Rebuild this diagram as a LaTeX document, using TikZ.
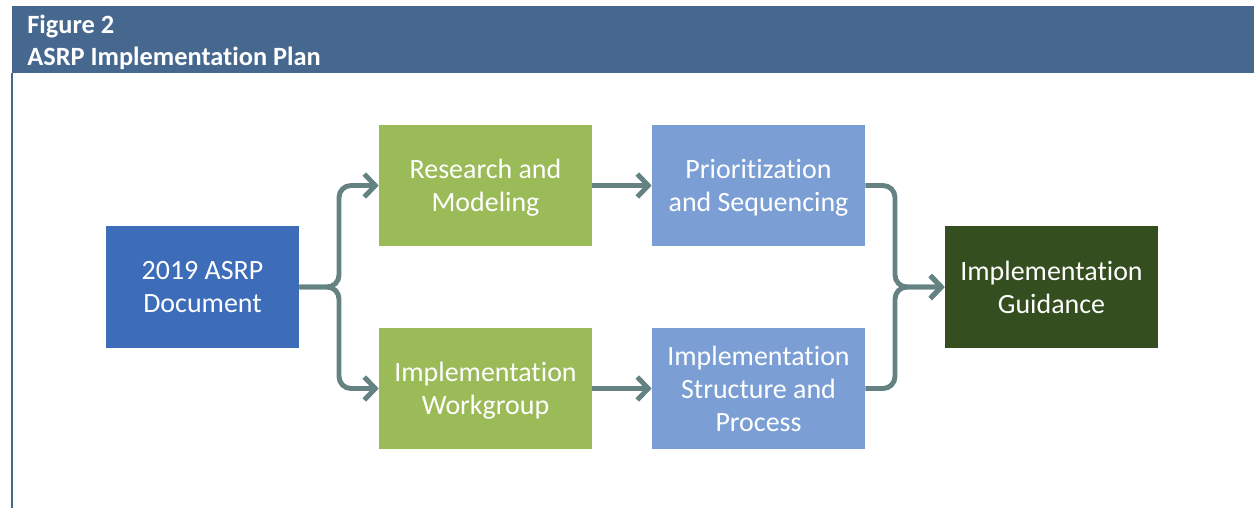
\documentclass[tikz,border=0pt]{standalone}
\usepackage{fontspec}
\setmainfont{Carlito}[Ligatures={NoCommon}]
\usetikzlibrary{arrows.meta}

\definecolor{headblue}{HTML}{46688F}
\definecolor{docblue}{HTML}{3D6DB9}
\definecolor{stepgreen}{HTML}{9BBB59}
\definecolor{stepblue}{HTML}{7B9FD5}
\definecolor{guidegreen}{HTML}{344E1F}
\definecolor{flowgray}{HTML}{648282}

\tikzset{
  box/.style={fill=#1, text=white, align=center, inner sep=0pt,
    minimum width=4.26cm, minimum height=2.42cm, text depth=0pt,
    font=\fontsize{15.9}{18.7}\selectfont},
  flow/.style={draw=flowgray, line width=2.8pt, rounded corners=0.24cm,
    -{Straight Barb[length=0.22cm, width=0.46cm]}},
  headtext/.style={anchor=west, text=white, inner sep=0pt,
    font=\fontsize{15}{18}\selectfont\bfseries}
}

\begin{document}
\begin{tikzpicture}[x=0.02cm, y=-0.02cm]
    \useasboundingbox (0, 0) rectangle (1254, 508);
    % header bar and frame
    \fill [headblue] (12, 6) rectangle (1254, 73);
    \draw [headblue, line width=0.04cm] (12, 73) -- (12, 508);
    \node [headtext] (figno) at (27, 26) {Figure 2};
    \node [headtext] (figtitle) at (27, 58) {ASRP Implementation Plan};
    % boxes
    \node [box=docblue, minimum width=3.86cm, minimum height=2.44cm] (doc) at (202.5, 287) {2019 ASRP\\Document};
    \node [box=stepgreen] (research) at (485.5, 185.5) {Research and\\Modeling};
    \node [box=stepgreen] (workgroup) at (485.5, 388.5) {Implementation\\Workgroup};
    \node [box=stepblue] (prio) at (758.5, 185.5) {Prioritization\\and Sequencing};
    \node [box=stepblue] (struct) at (758.5, 388.5) {Implementation\\Structure and\\Process};
    \node [box=guidegreen, minimum height=2.44cm] (guide) at (1051.5, 287) {Implementation\\Guidance};
    % connectors
    \coordinate (split) at (339, 287);
    \coordinate (merge) at (895, 287);
    \draw [flow] (doc.east) -- (split) |- (research.west);
    \draw [flow] (doc.east) -- (split) |- (workgroup.west);
    \draw [flow] (research.east) -- (prio.west);
    \draw [flow] (workgroup.east) -- (struct.west);
    \draw [flow] (prio.east) -| (merge) -- (guide.west);
    \draw [flow] (struct.east) -| (merge) -- (guide.west);
\end{tikzpicture}
\end{document}
